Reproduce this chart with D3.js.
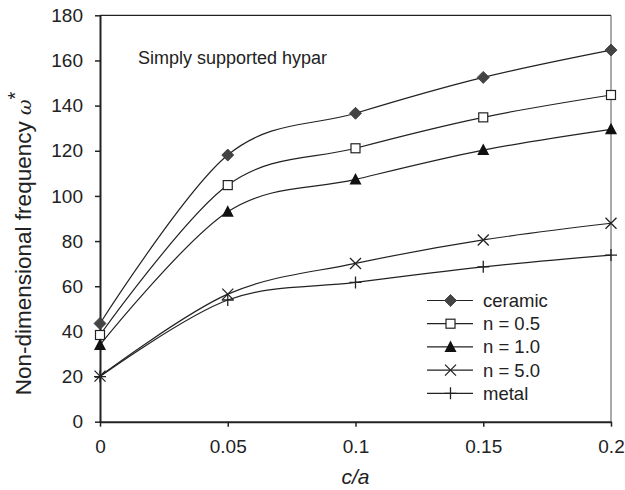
<!DOCTYPE html>
<html><head><meta charset="utf-8">
<script src="https://cdn.jsdelivr.net/npm/d3@7"></script>
<style>body{margin:0;background:#fff}svg{display:block}text{font-family:"Liberation Sans",Arial,sans-serif;fill:#222}</style>
</head><body><svg id="c" width="625" height="490"></svg>
<script>
const xValues = [0, 0.05, 0.1, 0.15, 0.2];
const ceramic = [43.5, 118.1, 136.6, 152.5, 164.6];
const n05 = [38.4, 104.8, 121.1, 134.8, 144.7];
const n10 = [34.0, 93.0, 107.3, 120.3, 129.5];
const n50 = [20.2, 56.5, 70.1, 80.5, 87.9];
const metal = [20.0, 53.9, 61.7, 68.6, 73.8];
const seriesNames = ["ceramic", "n = 0.5", "n = 1.0", "n = 5.0", "metal"];
const seriesMarkers = ["diamond", "square", "triangle", "cross", "plus"];
const xTicks = [0, 0.05, 0.1, 0.15, 0.2];
const xTickLabels = ["0", "0.05", "0.1", "0.15", "0.2"];
const yTicks = [0, 20, 40, 60, 80, 100, 120, 140, 160, 180];

const allSeries = [ceramic, n05, n10, n50, metal];
const svg = d3.select("#c");
const L = 100, R = 611, T = 15.3, B = 421.7;
const x = d3.scaleLinear().domain([0, 0.2]).range([L, R]);
const y = d3.scaleLinear().domain([0, 180]).range([B, T]);

// frame
svg.append("line").attr("x1", L).attr("x2", R).attr("y1", T).attr("y2", T).attr("stroke", "#222").attr("stroke-width", 1.3);
svg.append("line").attr("x1", R).attr("x2", R).attr("y1", T).attr("y2", B).attr("stroke", "#555").attr("stroke-width", 1);

// axes
const xAxis = d3.axisBottom(x).tickValues(xTicks).tickFormat((d, i) => xTickLabels[i]).tickSizeInner(5).tickSizeOuter(0).tickPadding(12.5);
const yAxis = d3.axisLeft(y).tickValues(yTicks).tickSizeInner(5).tickSizeOuter(0).tickPadding(12);
const gx = svg.append("g").attr("transform", `translate(0,${B})`).call(xAxis);
const gy = svg.append("g").attr("transform", `translate(${L},0)`).call(yAxis);
[gx, gy].forEach(g => {
  g.select(".domain").attr("stroke", "#222").attr("stroke-width", 2);
  g.selectAll(".tick line").attr("stroke", "#222").attr("stroke-width", 1.5);
  g.selectAll(".tick text").style("font-size", "19px").style("font-family", "'Liberation Sans',Arial,sans-serif").attr("fill", "#222");
});

// lines
const line = d3.line().x((d, i) => x(xValues[i])).y(d => y(d)).curve(d3.curveCatmullRom.alpha(0));
allSeries.forEach(s => {
  svg.append("path").attr("d", line(s)).attr("fill", "none").attr("stroke", "#222").attr("stroke-width", 1.2);
});

function marker(g, type, cx, cy) {
  if (type === "diamond") {
    g.append("path").attr("d", `M${cx},${cy-6}L${cx+6},${cy}L${cx},${cy+6}L${cx-6},${cy}Z`).attr("fill", "#444").attr("stroke", "#333").attr("stroke-width", 0.8);
  } else if (type === "square") {
    g.append("rect").attr("x", cx-4.5).attr("y", cy-4.5).attr("width", 9).attr("height", 9).attr("fill", "#fff").attr("stroke", "#222").attr("stroke-width", 1.2);
  } else if (type === "triangle") {
    g.append("path").attr("d", `M${cx},${cy-6.5}L${cx+6},${cy+5}L${cx-6},${cy+5}Z`).attr("fill", "#111");
  } else if (type === "cross") {
    g.append("path").attr("d", `M${cx-5.5},${cy-5.5}L${cx+5.5},${cy+5.5}M${cx-5.5},${cy+5.5}L${cx+5.5},${cy-5.5}`).attr("stroke", "#222").attr("stroke-width", 1.3);
  } else if (type === "plus") {
    g.append("path").attr("d", `M${cx-6},${cy}L${cx+6},${cy}M${cx},${cy-6}L${cx},${cy+6}`).attr("stroke", "#222").attr("stroke-width", 1.3);
  }
}
const mg = svg.append("g");
allSeries.forEach((s, k) => s.forEach((v, i) => marker(mg, seriesMarkers[k], x(xValues[i]), y(v))));

// legend
const lg = svg.append("g");
seriesNames.forEach((name, k) => {
  const ly = 300.5 + k * 23.2;
  lg.append("line").attr("x1", 427).attr("x2", 473).attr("y1", ly).attr("y2", ly).attr("stroke", "#222").attr("stroke-width", 1.2);
  marker(lg, seriesMarkers[k], 450.5, ly);
  lg.append("text").attr("x", 483).attr("y", ly + 6.5).style("font-size", "18.5px").text(name);
});

// title inside
svg.append("text").attr("x", 138).attr("y", 64).style("font-size", "18px").text("Simply supported hypar");

// axis titles
svg.append("text").attr("x", (L + R) / 2).attr("y", 484).attr("text-anchor", "middle").style("font-size", "21px").style("font-style", "italic").text("c/a");
const yt = svg.append("text").attr("transform", `translate(31,${243.5}) rotate(-90)`).attr("text-anchor", "middle").style("font-size", "22.5px");
yt.append("tspan").text("Non-dimensional frequency ");
yt.append("tspan").style("font-family", "'DejaVu Serif',serif").style("font-style", "italic").style("font-size", "19px").text("ω");
yt.append("tspan").attr("dy", -9).style("font-size", "20px").text("*");
</script></body></html>
